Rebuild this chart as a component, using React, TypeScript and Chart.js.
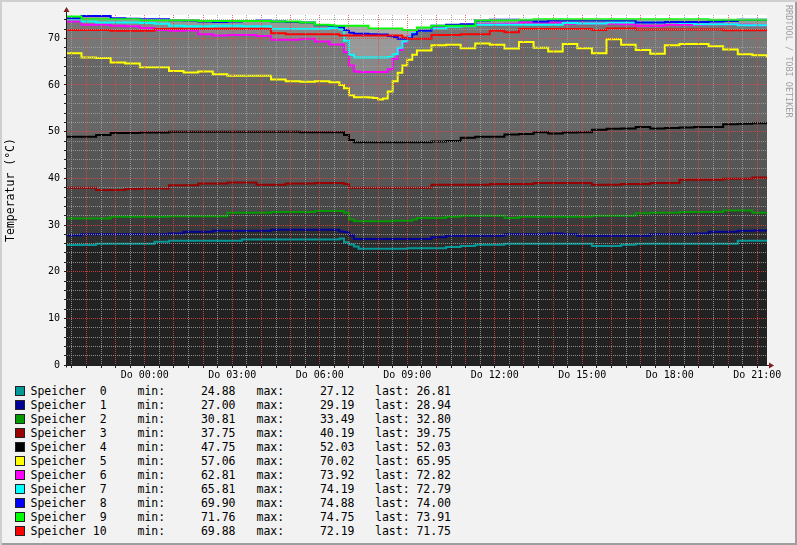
import { useEffect, useRef } from "react";
import { Chart, registerables } from "chart.js";

Chart.register(...registerables);

// step points, hours relative to Do 00:00
const hours = [
  -2.667, -2.17, -1.67, -1.17, -0.67, -0.17, 0.33, 0.83, 1.33, 1.83, 2.33, 2.83, 3.33, 3.83, 4.33, 4.83, 5.33, 5.83, 6.33,
  6.5, 6.67, 6.83, 7.0, 7.17, 7.33, 7.5, 7.67, 7.83, 8.0, 8.17, 8.33, 8.5, 8.67, 8.83, 9.0, 9.17, 9.33,
  9.83, 10.33, 10.83, 11.33, 11.83, 12.33, 12.83, 13.33, 13.83, 14.33, 14.83, 15.33, 15.83, 16.33, 16.83, 17.33, 17.83, 18.33, 18.83, 19.33, 19.83, 20.33, 20.83, 21.333,
];

const speicher0 = [
  25.7, 25.7, 26.0, 26.0, 26.0, 26.0, 26.4, 26.6, 26.6, 26.6, 26.6, 26.6, 26.9, 26.9, 26.9, 26.9, 26.9, 26.9, 26.9,
  26.9, 27.1, 26.3, 25.8, 25.4, 24.9, 24.9, 24.9, 24.9, 24.9, 24.9, 24.9, 24.9, 24.9, 24.9, 25.0, 25.0, 25.0,
  25.0, 25.3, 25.5, 25.75, 25.75, 26.0, 26.0, 26.0, 26.0, 26.0, 26.0, 25.5, 25.5, 25.75, 26.0, 26.0, 26.0, 26.0, 26.0, 26.0, 26.0, 26.6, 26.6, 26.8,
];
const speicher1 = [
  27.8, 28.0, 28.0, 28.0, 28.0, 28.0, 28.0, 28.2, 28.55, 28.55, 28.76, 28.76, 28.76, 28.76, 29.0, 29.0, 29.0, 29.0, 29.0,
  29.0, 28.6, 28.5, 27.8, 27.0, 27.0, 27.0, 27.0, 27.0, 27.0, 27.0, 27.0, 27.0, 27.0, 27.0, 27.0, 27.0, 27.0,
  27.4, 27.7, 27.7, 27.7, 27.7, 28.0, 28.0, 28.0, 28.2, 28.0, 27.7, 27.7, 27.7, 27.7, 27.7, 28.0, 28.0, 28.0, 28.2, 28.55, 28.55, 28.76, 28.8, 28.9,
];
const speicher2 = [
  31.4, 31.4, 31.4, 31.75, 31.75, 31.75, 31.75, 31.9, 31.9, 31.9, 31.9, 32.6, 32.6, 32.6, 32.8, 32.8, 32.8, 33.0, 33.0,
  33.0, 33.0, 32.6, 31.2, 30.8, 30.8, 30.8, 30.8, 30.8, 30.8, 30.8, 30.8, 30.9, 30.9, 30.9, 30.9, 31.2, 31.5,
  31.5, 31.75, 31.96, 31.96, 31.96, 31.5, 31.75, 31.75, 31.75, 31.75, 31.75, 31.96, 31.96, 31.96, 32.5, 32.6, 32.6, 32.8, 32.8, 32.8, 33.1, 33.1, 32.6, 32.8,
];
const speicher3 = [
  38.0, 38.0, 37.5, 37.5, 37.7, 37.8, 37.8, 38.5, 38.5, 38.9, 38.9, 39.1, 39.1, 38.6, 38.6, 38.9, 38.9, 39.0, 39.0,
  39.0, 39.0, 38.8, 38.0, 38.0, 38.0, 38.0, 38.0, 38.0, 38.0, 38.0, 38.0, 38.0, 38.0, 38.0, 38.0, 38.0, 38.0,
  38.6, 38.6, 38.6, 38.6, 38.8, 38.8, 38.8, 39.0, 39.0, 39.0, 39.0, 38.6, 38.6, 38.8, 38.8, 39.0, 39.0, 39.7, 39.7, 39.7, 39.9, 39.9, 40.2, 39.75,
];
const speicher4 = [
  48.9, 48.9, 49.3, 49.7, 49.7, 49.8, 49.8, 50.0, 50.0, 50.0, 50.0, 50.0, 50.0, 50.0, 50.0, 50.0, 49.9, 49.9, 49.9,
  49.9, 49.9, 49.3, 48.2, 47.75, 47.75, 47.75, 47.75, 47.75, 47.75, 47.75, 47.75, 47.75, 47.75, 47.75, 47.75, 47.75, 47.75,
  47.9, 48.0, 48.7, 48.9, 48.9, 49.4, 49.5, 49.9, 49.6, 49.8, 49.9, 50.4, 50.6, 50.7, 51.0, 50.7, 50.8, 50.9, 51.0, 51.0, 51.6, 51.7, 51.8, 52.0,
];
const speicher5 = [
  66.8, 65.9, 65.8, 64.8, 64.6, 63.8, 63.8, 63.0, 62.7, 62.9, 62.3, 62.0, 62.0, 62.0, 61.2, 60.8, 60.7, 60.8, 60.6,
  60.6, 60.0, 59.3, 57.8, 57.4, 57.4, 57.4, 57.3, 57.2, 56.9, 57.1, 58.6, 60.8, 62.6, 64.2, 65.4, 66.5, 67.4,
  68.5, 68.6, 67.9, 68.9, 68.6, 67.8, 69.2, 68.0, 67.2, 68.8, 67.9, 66.8, 69.8, 68.6, 67.5, 66.7, 68.5, 68.8, 68.8, 68.3, 67.6, 66.6, 66.4, 65.9,
];
const speicher6 = [
  73.6, 72.9, 72.9, 72.7, 72.6, 72.2, 71.8, 71.6, 71.7, 70.9, 70.6, 70.7, 70.7, 70.5, 69.7, 69.7, 69.9, 69.3, 68.7,
  68.7, 68.7, 67.0, 64.2, 62.9, 62.8, 62.8, 62.8, 62.8, 62.8, 62.8, 63.4, 65.6, 67.5, 69.1, 70.4, 71.0, 71.6,
  72.3, 72.7, 72.9, 73.0, 73.0, 73.1, 73.4, 73.4, 73.4, 73.1, 73.2, 73.2, 73.1, 73.0, 72.7, 72.7, 72.9, 72.9, 72.9, 73.0, 73.0, 72.9, 72.8, 72.8,
];
const speicher7 = [
  74.1, 73.6, 73.4, 73.4, 73.4, 73.3, 73.1, 72.7, 72.6, 72.6, 72.7, 72.7, 72.6, 72.6, 72.0, 72.0, 72.0, 72.0, 72.2,
  72.2, 71.9, 69.5, 66.5, 65.9, 65.9, 65.9, 65.9, 65.9, 65.9, 65.9, 66.0, 66.6, 68.0, 69.3, 70.3, 71.1, 71.6,
  72.1, 72.5, 72.6, 72.9, 72.9, 72.9, 72.9, 72.9, 72.9, 73.3, 73.2, 73.2, 73.4, 73.4, 73.4, 73.4, 73.4, 73.3, 73.0, 73.0, 73.0, 72.8, 72.8, 72.8,
];
const speicher8 = [
  74.3, 74.8, 74.8, 74.3, 74.2, 74.1, 74.1, 73.9, 73.8, 73.6, 73.5, 73.6, 73.7, 73.8, 73.6, 73.5, 73.4, 72.8, 72.7,
  72.6, 72.4, 71.8, 71.2, 71.0, 71.0, 71.0, 70.9, 70.9, 70.8, 70.8, 70.5, 70.3, 69.9, 69.9, 70.0, 70.9, 71.6,
  72.7, 72.9, 73.0, 73.8, 74.0, 74.0, 73.9, 73.6, 73.8, 73.8, 73.8, 73.8, 73.8, 73.8, 73.4, 73.4, 73.5, 73.5, 73.5, 73.6, 73.7, 74.0, 74.0, 74.0,
];
const speicher9 = [
  74.7, 74.1, 74.1, 74.1, 74.1, 73.9, 73.9, 73.9, 73.9, 73.7, 73.7, 73.7, 73.7, 73.7, 73.6, 73.6, 73.4, 72.9, 72.8,
  72.7, 72.7, 72.7, 72.7, 72.7, 72.7, 72.7, 72.1, 72.1, 72.1, 72.1, 72.1, 72.1, 72.1, 71.8, 71.8, 71.8, 72.3,
  72.7, 72.7, 72.7, 73.9, 73.9, 73.9, 74.0, 74.1, 74.1, 74.1, 74.1, 74.1, 74.1, 74.1, 74.1, 74.1, 74.1, 74.1, 74.1, 74.0, 74.0, 74.0, 74.0, 73.9,
];
const speicher10 = [
  71.8, 71.8, 71.8, 71.6, 71.6, 71.6, 72.0, 72.0, 72.0, 72.0, 72.0, 72.0, 72.0, 72.0, 71.1, 70.9, 70.9, 70.9, 70.9,
  70.9, 70.6, 70.6, 70.6, 70.6, 70.6, 70.6, 70.6, 70.6, 70.6, 70.6, 70.6, 70.6, 70.6, 70.2, 69.9, 69.9, 69.9,
  70.7, 70.7, 70.9, 70.9, 71.6, 71.3, 72.0, 72.0, 72.0, 72.0, 72.0, 71.8, 72.1, 72.1, 71.9, 71.9, 71.9, 71.9, 71.9, 71.9, 71.75, 71.75, 71.75, 71.75,
];

const series = [speicher0, speicher1, speicher2, speicher3, speicher4, speicher5, speicher6, speicher7, speicher8, speicher9, speicher10];
const names = ["Speicher  0", "Speicher  1", "Speicher  2", "Speicher  3", "Speicher  4", "Speicher  5", "Speicher  6", "Speicher  7", "Speicher  8", "Speicher  9", "Speicher 10"];
const minValues = ["24.88", "27.00", "30.81", "37.75", "47.75", "57.06", "62.81", "65.81", "69.90", "71.76", "69.88"];
const maxValues = ["27.12", "29.19", "33.49", "40.19", "52.03", "70.02", "73.92", "74.19", "74.88", "74.75", "72.19"];
const lastValues = ["26.81", "28.94", "32.80", "39.75", "52.03", "65.95", "72.82", "72.79", "74.00", "73.91", "71.75"];

const xLabelHours = [0, 3, 6, 9, 12, 15, 18, 21];
const xLabels = ["Do 00:00", "Do 03:00", "Do 06:00", "Do 09:00", "Do 12:00", "Do 15:00", "Do 18:00", "Do 21:00"];
const yLabelValues = [0, 10, 20, 30, 40, 50, 60, 70];

const lineColors = ["#009999", "#000099", "#009900", "#990000", "#000000", "#ffff00", "#ff00ff", "#00ffff", "#0000ff", "#00ff00", "#ff0000"];
const areaGrays = ["#222222", "#2d2d2d", "#3a3a3a", "#484848", "#565656", "#666666", "#777777", "#888888", "#999999", "#aaaaaa", "#bbbbbb"];

const MONO = "'DejaVu Sans Mono', monospace";
const GRID = "rgba(160,160,160,0.85)";
const MGRID = "rgba(230,70,70,0.8)";

const rrdFrame = {
  id: "rrdFrame",
  beforeDraw(chart: any) {
    const { ctx, chartArea: a } = chart;
    ctx.save();
    ctx.fillStyle = "#ffffff";
    ctx.fillRect(a.left, a.top, a.right - a.left, a.bottom - a.top);
    ctx.restore();
  },
  afterDraw(chart: any) {
    const { ctx, chartArea: a } = chart;
    const x0 = Math.round(a.left) - 0.5;
    const y0 = Math.round(a.bottom) + 0.5;
    ctx.save();
    ctx.strokeStyle = "#1f1f1f";
    ctx.lineWidth = 1;
    ctx.beginPath();
    ctx.moveTo(x0, y0 + 2);
    ctx.lineTo(x0, a.top - 5);
    ctx.moveTo(x0 - 2, y0);
    ctx.lineTo(a.right + 5, y0);
    ctx.stroke();
    ctx.fillStyle = "#801f1f";
    ctx.beginPath();
    ctx.moveTo(x0, a.top - 8);
    ctx.lineTo(x0 - 3, a.top - 3);
    ctx.lineTo(x0 + 3, a.top - 3);
    ctx.closePath();
    ctx.fill();
    ctx.beginPath();
    ctx.moveTo(a.right + 7, y0);
    ctx.lineTo(a.right + 2, y0 - 3);
    ctx.lineTo(a.right + 2, y0 + 3);
    ctx.closePath();
    ctx.fill();
    ctx.restore();
  },
};

export default function App() {
  const canvasRef = useRef<HTMLCanvasElement>(null);
  const chartRef = useRef<Chart | null>(null);

  useEffect(() => {
    if (!canvasRef.current) return;
    if (chartRef.current) chartRef.current.destroy();

    const points = (vals: number[]) => vals.map((v, k) => ({ x: hours[k], y: v }));

    // grey areas: lower Speicher painted last (on top)
    const areaSets = series.map((vals, i) => ({
      label: "area " + i,
      data: points(vals),
      borderWidth: 0,
      borderColor: "transparent",
      backgroundColor: areaGrays[i],
      fill: "origin",
      stepped: true,
      pointRadius: 0,
      order: i,
    }));
    // lines: Speicher 10 painted last
    const lineSets = series.map((vals, i) => ({
      label: names[i],
      data: points(vals),
      borderColor: lineColors[i],
      borderWidth: 2,
      fill: false,
      stepped: true,
      pointRadius: 0,
      order: -100 - i,
    }));

    chartRef.current = new Chart(canvasRef.current, {
      type: "line",
      data: { datasets: [...areaSets, ...lineSets] as any },
      options: {
        responsive: false,
        animation: false,
        events: [],
        layout: { padding: { left: 0, top: 15, right: 30, bottom: 0 } },
        plugins: {
          legend: { display: false },
          tooltip: { enabled: false },
          filler: { propagate: false, drawTime: "beforeDatasetsDraw" },
        },
        scales: {
          x: {
            type: "linear",
            min: -2.667,
            max: 21.333,
            afterFit: (s: any) => { s.height = 15; },
            afterBuildTicks: (s: any) => {
              const t = [];
              for (let k = 0; k <= 47; k++) t.push({ value: -2.5 + k * 0.5 });
              s.ticks = t;
            },
            grid: {
              z: 1,
              color: (c: any) => (Number.isInteger(c.tick?.value) ? MGRID : GRID),
              lineWidth: 1,
              tickLength: 3,
              tickColor: "#1f1f1f",
            },
            border: { display: false, dash: [1, 1] },
            ticks: {
              autoSkip: false,
              maxRotation: 0,
              padding: 1,
              color: "#000",
              font: { family: MONO, size: 10 },
              callback: (v: any) => {
                const i = xLabelHours.indexOf(Number(v));
                return i >= 0 ? xLabels[i] : "";
              },
            },
          },
          y: {
            type: "linear",
            min: 0,
            max: 75,
            afterFit: (s: any) => { s.width = 67; },
            afterBuildTicks: (s: any) => {
              const t = [];
              for (let k = 0; k <= 37; k++) t.push({ value: k * 2 });
              s.ticks = t;
            },
            grid: {
              z: 1,
              color: (c: any) => (yLabelValues.includes(c.tick?.value) ? MGRID : GRID),
              lineWidth: 1,
              tickLength: 3,
              tickColor: "#1f1f1f",
            },
            border: { display: false, dash: [1, 1] },
            title: {
              display: true,
              text: "Temperatur (°C)",
              color: "#000",
              font: { family: MONO, size: 11.5 },
              padding: { top: 4, bottom: 0 },
            },
            ticks: {
              autoSkip: false,
              padding: 4,
              color: "#000",
              font: { family: MONO, size: 10 },
              callback: (v: any) => (yLabelValues.includes(Number(v)) ? String(v) : ""),
            },
          },
        },
      },
      plugins: [rrdFrame],
    });

    return () => chartRef.current?.destroy();
  }, []);

  const text = { position: "absolute" as const, top: 0, lineHeight: "14px", whiteSpace: "pre" as const };

  return (
    <div
      style={{
        position: "fixed",
        left: 0,
        top: 0,
        width: 797,
        height: 545,
        background: "#f2f2f2",
        boxShadow: "inset 2px 2px 0 #cfcfcf, inset -2px -2px 0 #9e9e9e",
        fontFamily: MONO,
        fontSize: "11.5px",
        color: "#000",
        overflow: "hidden",
      }}
    >
      <canvas ref={canvasRef} width={797} height={380} style={{ position: "absolute", left: 0, top: 0 }} />
      <div
        style={{
          position: "absolute",
          left: 784,
          top: 5,
          writingMode: "vertical-rl",
          fontSize: "8.5px",
          color: "#a0a0a0",
          whiteSpace: "pre",
          lineHeight: "10px",
        }}
      >
        RRDTOOL / TOBI OETIKER
      </div>
      {names.map((n, i) => (
        <div key={n} style={{ position: "absolute", left: 0, top: 384 + i * 14, width: 797, height: 14 }}>
          <div
            style={{
              position: "absolute",
              left: 15,
              top: 2,
              width: 8,
              height: 8,
              background: lineColors[i],
              border: "1px solid #222",
            }}
          />
          <span style={{ ...text, left: 30.5 }}>{n}</span>
          <span style={{ ...text, left: 137.5 }}>min:</span>
          <span style={{ ...text, left: 175.5, width: 60, textAlign: "right" }}>{minValues[i]}</span>
          <span style={{ ...text, left: 256.5 }}>max:</span>
          <span style={{ ...text, left: 294.5, width: 60, textAlign: "right" }}>{maxValues[i]}</span>
          <span style={{ ...text, left: 375 }}>last:</span>
          <span style={{ ...text, left: 391, width: 60, textAlign: "right" }}>{lastValues[i]}</span>
        </div>
      ))}
    </div>
  );
}
